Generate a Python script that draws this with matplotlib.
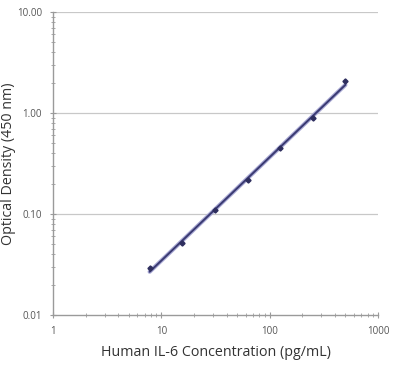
import numpy as np
import matplotlib.pyplot as plt
from matplotlib.ticker import FixedLocator, LogLocator, NullFormatter

plt.rcParams['font.family'] = ['Open Sans', 'DejaVu Sans']

conc = [7.8, 15.6, 31.25, 62.5, 125, 250, 500]
od = [0.029, 0.052, 0.11, 0.217, 0.45, 0.89, 2.07]
xtick_vals = [1, 10, 100, 1000]
xtick_labels = ["1", "10", "100", "1000"]
ytick_vals = [0.01, 0.1, 1, 10]
ytick_labels = ["0.01", "0.10", "1.00", "10.00"]

fig = plt.figure(figsize=(4, 3.77), dpi=100)
ax = fig.add_axes([0.1325, 0.1645, 0.8125, 0.8035])

ax.set_xscale('log')
ax.set_yscale('log')
ax.set_xlim(1, 1000)
ax.set_ylim(0.01, 10)

for yv in ytick_vals[1:]:
    ax.axhline(yv, color='#c8c8c8', lw=0.9, zorder=1)

# straight fit in log-log space
k, b = np.polyfit(np.log10(conc), np.log10(od), 1)
xf = np.array([conc[0], conc[-1]])
yf = 10 ** (k * np.log10(xf) + b)
ax.plot(xf, yf, color='#a9a9d4', lw=3.0, solid_capstyle='round', zorder=2)
ax.plot(xf, yf, color='#3a3a72', lw=1.4, solid_capstyle='round', zorder=3)
ax.plot(conc, od, ls='none', marker='D', ms=2.6, color='#2e2e5e', zorder=4)

for s in ['top', 'right']:
    ax.spines[s].set_visible(False)
for s in ['left', 'bottom']:
    ax.spines[s].set_color('#9a9a9a')
    ax.spines[s].set_linewidth(1.0)

ax.xaxis.set_major_locator(FixedLocator(xtick_vals))
ax.set_xticklabels(xtick_labels)
ax.yaxis.set_major_locator(FixedLocator(ytick_vals))
ax.set_yticklabels(ytick_labels)
ax.xaxis.set_minor_locator(LogLocator(base=10, subs=np.arange(2, 10)))
ax.yaxis.set_minor_locator(LogLocator(base=10, subs=np.arange(2, 10)))
ax.xaxis.set_minor_formatter(NullFormatter())
ax.yaxis.set_minor_formatter(NullFormatter())
ax.tick_params(which='major', direction='inout', length=4, width=0.8, color='#9a9a9a',
               labelsize=7, labelcolor='#555555', pad=6)
ax.tick_params(which='minor', direction='inout', length=2.5, width=0.7, color='#aaaaaa')

ax.set_xlabel("Human IL-6 Concentration (pg/mL)", fontsize=10.3, color='#333333', labelpad=6)
ax.set_ylabel("Optical Density (450 nm)", fontsize=10.3, color='#333333')
ax.yaxis.set_label_coords(-0.115, 0.5)

fig.savefig("out.png", dpi=100)
